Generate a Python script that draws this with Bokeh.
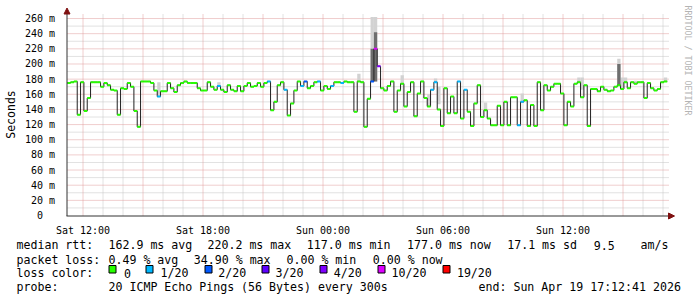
import math
from datetime import datetime, timedelta

from bokeh.plotting import figure
from bokeh.models import Range1d, FixedTicker, Label, Arrow, NormalHead
from bokeh.core.properties import value
from bokeh.embed import file_html
from bokeh.resources import INLINE

# ---------------- data ----------------
start_time = datetime(2026, 4, 18, 11, 12, 41)
end_time = datetime(2026, 4, 19, 17, 12, 41)
bin_minutes = 10

median_ms = [
    175, 176, 177, 133, 176, 138, 155, 176, 176, 176,
    170, 175, 172, 166, 165, 133, 168, 167, 175, 170,
    138, 117, 177, 177, 177, 175, 165, 157, 164, 164,
    175, 168, 163, 172, 175, 177, 175, 175, 175, 168,
    165, 165, 176, 170, 166, 171, 166, 163, 172, 166,
    164, 171, 164, 171, 175, 170, 171, 175, 170, 175,
    177, 139, 150, 172, 176, 166, 132, 148, 165, 177,
    171, 177, 168, 171, 176, 177, 165, 171, 167, 171,
    176, 176, 175, 177, 176, 176, 137, 177, 176, 117,
    154, 177, 220, 197, 168, 165, 171, 177, 137, 165,
    174, 144, 163, 176, 131, 161, 177, 155, 144, 166,
    176, 140, 118, 168, 135, 157, 135, 177, 128, 166,
    137, 118, 148, 172, 130, 139, 128, 119, 119, 145,
    119, 150, 119, 156, 156, 119, 150, 152, 118, 146,
    118, 176, 139, 172, 165, 170, 174, 174, 161, 119,
    150, 144, 174, 176, 156, 172, 118, 167, 167, 164,
    170, 166, 164, 165, 170, 172, 167, 176, 168, 176,
    174, 176, 176, 155, 175, 168, 165, 167, 176, 177,
]

loss_20 = [
    0, 0, 0, 0, 0, 0, 0, 0, 0, 0,
    0, 0, 0, 0, 0, 0, 0, 0, 0, 0,
    0, 0, 0, 0, 0, 0, 0, 1, 0, 0,
    0, 0, 0, 0, 0, 0, 0, 0, 0, 0,
    0, 0, 0, 0, 0, 1, 0, 0, 0, 0,
    0, 0, 0, 0, 0, 0, 0, 0, 0, 0,
    1, 0, 0, 0, 0, 1, 0, 0, 0, 0,
    1, 2, 0, 0, 0, 1, 0, 0, 0, 1,
    0, 0, 1, 0, 0, 0, 0, 0, 0, 0,
    0, 2, 10, 4, 0, 0, 0, 0, 0, 0,
    0, 0, 0, 0, 0, 0, 0, 0, 0, 1,
    1, 0, 0, 0, 0, 0, 0, 1, 0, 1,
    0, 0, 0, 0, 0, 0, 0, 0, 0, 0,
    0, 0, 0, 0, 0, 1, 1, 0, 0, 0,
    0, 0, 0, 0, 0, 0, 0, 0, 0, 0,
    0, 0, 0, 0, 0, 0, 0, 0, 0, 0,
    0, 0, 0, 0, 0, 0, 0, 0, 0, 0,
    0, 0, 0, 0, 0, 0, 0, 0, 0, 0,
]

smoke_bin = [27, 45, 87, 91, 92, 100, 108, 110, 111, 125, 136, 153, 154, 165, 166, 167, 170, 179]
smoke_low = [157, 171, 177, 177, 177, 174, 144, 176, 147, 139, 150, 176, 166, 172, 167, 176, 174, 177]
smoke_dark = [157, 171, 177, 220, 242, 174, 144, 176, 147, 139, 150, 176, 166, 200, 167, 176, 174, 177]
smoke_high = [176, 176, 187, 262, 262, 185, 160, 181, 170, 149, 161, 182, 182, 207, 182, 182, 178, 182]

loss_levels = [0, 1, 2, 3, 4, 10, 19]
loss_colors = ["#26ff00", "#00b8ff", "#0059ff", "#5e00ff", "#7e00ff", "#dd00ff", "#ff0000"]
loss_labels = ["0", "1/20", "2/20", "3/20", "4/20", "10/20", "19/20"]

x_label_times = [datetime(2026, 4, 18, 12), datetime(2026, 4, 18, 18), datetime(2026, 4, 19, 0),
                 datetime(2026, 4, 19, 6), datetime(2026, 4, 19, 12)]
x_labels = ["Sat 12:00", "Sat 18:00", "Sun 00:00", "Sun 06:00", "Sun 12:00"]
y_ticks = [0, 20, 40, 60, 80, 100, 120, 140, 160, 180, 200, 220, 240, 260]
y_labels = ["0\u00a0\u00a0", "20 m", "40 m", "60 m", "80 m", "100 m", "120 m", "140 m",
            "160 m", "180 m", "200 m", "220 m", "240 m", "260 m"]

rtt_title = "median rtt:"
rtt_stats = ["162.9 ms avg", "220.2 ms max", "117.0 ms min", "177.0 ms now", "17.1 ms sd", "9.5", "am/s"]
loss_title = "packet loss:"
loss_stats = ["0.49 % avg", "34.90 % max", "0.00 % min", "0.00 % now"]
color_title = "loss color:"
probe_title = "probe:"
probe_text = "20 ICMP Echo Pings (56 Bytes) every 300s"
end_text = "end: Sun Apr 19 17:12:41 2026"
y_title = "Seconds"
watermark = "RRDTOOL / TOBI OETIKER"

# ---------------- layout ----------------
MONO = "DejaVu Sans Mono"
W, H = 697, 297
MS_PER_PX = 1.32
MIN_PER_PX = 3.0


def mins(t):
    return round((t - start_time).total_seconds() / 60.0, 4)


first_hour = datetime(2026, 4, 18, 12)
# the frame covers the whole page; hour lines fall on pixel centres 82.5, 102.5, ...
x_start = mins(first_hour) - 82.5 * MIN_PER_PX
y_start = -(H - 215) * MS_PER_PX     # value 0 on page row 215


def dx(px):
    return x_start + px * MIN_PER_PX


def dy(py):
    return y_start + (H - py) * MS_PER_PX


p = figure(width=W, height=H, title=None,
           x_range=Range1d(x_start, x_start + W * MIN_PER_PX),
           y_range=Range1d(y_start, y_start + H * MS_PER_PX),
           output_backend="svg", toolbar_location=None,
           min_border_left=0, min_border_right=0, min_border_top=0, min_border_bottom=0,
           background_fill_color="white", border_fill_color="white")
p.outline_line_color = None
p.xgrid.visible = False
p.ygrid.visible = False

# ---------------- ticks / grid ----------------
hour_ticks = []
t = first_hour
while t <= end_time:
    hour_ticks.append(t)
    t += timedelta(hours=1)
major_x = [mins(h) for h in hour_ticks if h.hour % 3 == 0]
minor_x = [mins(h) for h in hour_ticks if h.hour % 3 != 0]
overrides = {m: "" for m in major_x}
for tt, lab_txt in zip(x_label_times, x_labels):
    overrides[mins(tt)] = lab_txt
y_minor = [v + 10 for v in y_ticks[:-1]]

MINOR_C = "#c4c4c4"
MAJOR_C = "#e09c9c"
g_top = dy(13)
g_x0, g_x1 = dx(67), dx(668)
p.segment(x0=minor_x, x1=minor_x, y0=0, y1=g_top, line_color=MINOR_C, line_dash="1 1", line_width=1)
p.segment(x0=g_x0, x1=g_x1, y0=y_minor, y1=y_minor, line_color=MINOR_C, line_dash="1 1", line_width=1)
p.segment(x0=major_x, x1=major_x, y0=0, y1=g_top, line_color=MAJOR_C, line_dash="1 1", line_width=1)
p.segment(x0=g_x0, x1=g_x1, y0=y_ticks[1:], y1=y_ticks[1:], line_color=MAJOR_C, line_dash="1 1",
          line_width=1)

ax_x = dx(66.5)
ax_y = dy(215.5)
p.xaxis.ticker = FixedTicker(ticks=major_x, minor_ticks=minor_x)
p.xaxis.major_label_overrides = overrides
p.xaxis.fixed_location = ax_y
p.xaxis.major_label_standoff = 3
p.yaxis.ticker = FixedTicker(ticks=y_ticks, minor_ticks=y_minor)
p.yaxis.major_label_overrides = dict(zip(y_ticks, y_labels))
p.yaxis.fixed_location = ax_x
p.yaxis.major_label_standoff = 6
for ax in (p.xaxis[0], p.yaxis[0]):
    ax.axis_line_color = None
    ax.major_tick_line_color = None
    ax.minor_tick_line_color = None
    ax.major_label_text_font = MONO
    ax.major_label_text_font_size = "10px"
    ax.major_label_text_color = "#000000"

# ---------------- smoke ----------------
sl = [b * bin_minutes for b in smoke_bin]
sr = [(b + 1) * bin_minutes for b in smoke_bin]
p.quad(left=sl, right=sr, bottom=smoke_low, top=smoke_high, fill_color="#d2d2d2", line_color=None)
p.quad(left=sl, right=sr, bottom=smoke_low, top=smoke_dark, fill_color="#6e6e6e", line_color=None)

# ---------------- median ----------------
n = len(median_ms)
xs = [i * bin_minutes for i in range(n + 1)]
ys = median_ms + [median_ms[-1]]
p.step(xs, ys, mode="after", line_color="#202020", line_width=1)
seg_colors = [loss_colors[loss_levels.index(l)] for l in loss_20]
p.segment(x0=xs[:-1], x1=xs[1:], y0=median_ms, y1=median_ms, line_color=seg_colors, line_width=2)

# ---------------- axis lines + arrows ----------------
AXIS_C = "#333333"
ARROW_C = "#7f1010"
p.segment(x0=[dx(66), ax_x], x1=[dx(670), ax_x], y0=[ax_y, dy(215.5)], y1=[ax_y, dy(12)],
          line_color=AXIS_C, line_width=1)
p.add_layout(Arrow(end=NormalHead(size=6, fill_color=ARROW_C, line_color=ARROW_C, line_width=1),
                   x_start=dx(664), y_start=ax_y, x_end=dx(674), y_end=ax_y, line_alpha=0))
p.add_layout(Arrow(end=NormalHead(size=6, fill_color=ARROW_C, line_color=ARROW_C, line_width=1),
                   x_start=ax_x, y_start=dy(18), x_end=ax_x, y_end=dy(7.5), line_alpha=0))

p.add_layout(Label(x=dx(687), y=dy(60), text=watermark, angle=-math.pi / 2, text_align="center",
                   text_baseline="middle", text_font=MONO, text_font_size="8.3px",
                   text_color="#b4b4b4"))
p.add_layout(Label(x=dx(10.7), y=dy(114), text=y_title, angle=math.pi / 2, text_align="center",
                   text_baseline="middle", text_font=MONO, text_font_size="11.5px",
                   text_color="#000000"))

# ---------------- legend block ----------------
rows = [244.5, 259, 272.5, 286.5]
texts, tx, ty = [], [], []


def add(txt, x, y):
    texts.append(txt)
    tx.append(dx(x))
    ty.append(dy(y))


add(rtt_title, 16, rows[0])
for s, x in zip(rtt_stats, [108, 207, 306.3, 406.5, 506.7, 593.3, 640]):
    add(s, x, rows[0])
add(loss_title, 16, rows[1])
for s, x in zip(loss_stats, [108, 193.3, 286, 372.3]):
    add(s, x, rows[1])
add(color_title, 16, rows[2])
sq_left = [108, 145, 204, 261, 319, 377, 442]
lab_x = [123.5, 160, 217.7, 275, 333.3, 391, 456.4]
for s, x in zip(loss_labels, lab_x):
    add(s, x, rows[2])
add(probe_title, 16, rows[3])
add(probe_text, 108, rows[3])
add(end_text, 478, rows[3])

p.text(x=tx, y=ty, text=texts, text_font=value(MONO), text_font_size=value("11.6px"),
       text_color="#000000", text_baseline="alphabetic", text_align="left")
p.quad(left=[dx(x + 0.5) for x in sq_left], right=[dx(x + 7.5) for x in sq_left],
       top=dy(265), bottom=dy(272.5), fill_color=loss_colors, line_color="#000000", line_width=1)

open("out.html", "w").write(file_html(p, INLINE))
